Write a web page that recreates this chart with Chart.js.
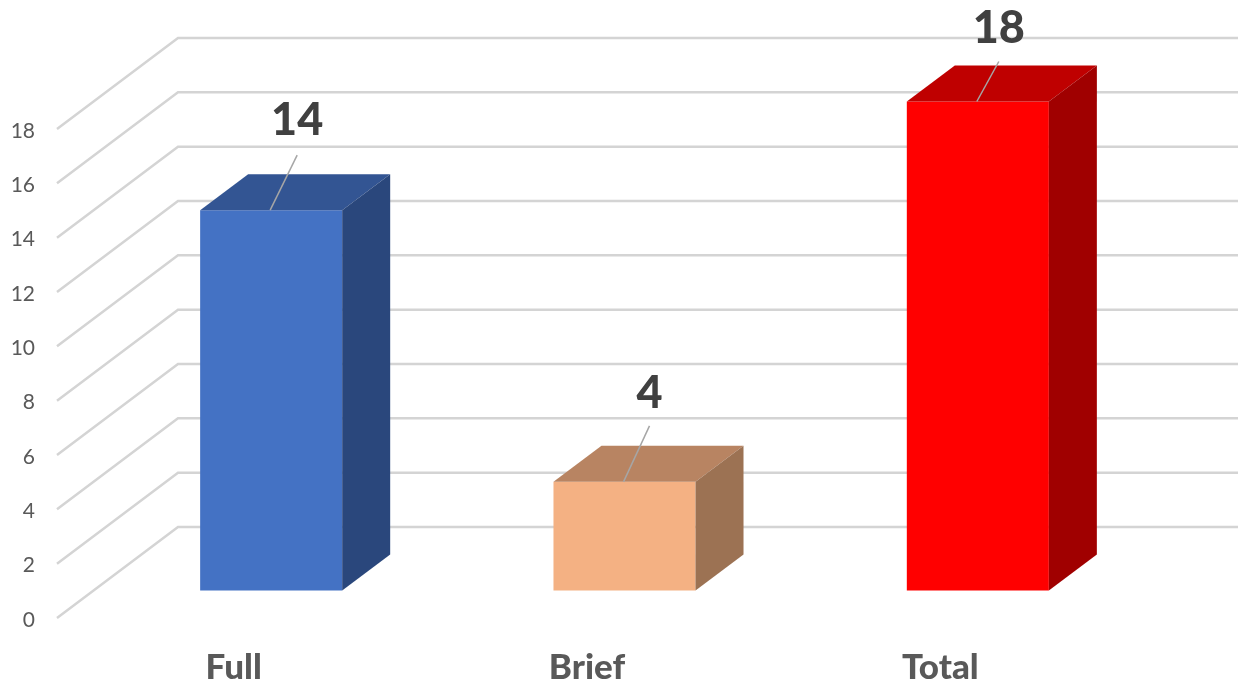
<!DOCTYPE html>
<html>
<head>
<meta charset="utf-8">
<style>
  body { margin: 0; background: #fff; }
</style>
<script src="https://cdn.jsdelivr.net/npm/chart.js@4"></script>
</head>
<body>
<canvas id="bar-chart" width="1243" height="686"></canvas>
<script>
var categories = ["Full", "Brief", "Total"];
var counts = [14, 4, 18];
var yTicks = [0, 2, 4, 6, 8, 10, 12, 14, 16, 18];

var frontColors = ["#4472C4", "#F4B183", "#FF0000"];
var topColors = ["#335593", "#B88462", "#BF0000"];
var sideColors = ["#2A477C", "#9C7253", "#A00000"];

// the fake 3d: wall depth, bar depth and how far the bars sit in from the front
var wallDx = 121, wallDy = -91;
var barDx = 48, barDy = -36;
var shiftX = 37.5, shiftY = -29.5;
// tick labels sit a bit below their lines in the original
var wallNudge = -2;
// leader line and label placement, relative to the top centre of each bar
var leaders = [[27, -55], [26, -56], [22, -40]];
var labelY = [120, 393, 28];

function poly(ctx, pts, color) {
  ctx.fillStyle = color;
  ctx.beginPath();
  ctx.moveTo(pts[0][0], pts[0][1]);
  for (var i = 1; i < pts.length; i++) {
    ctx.lineTo(pts[i][0], pts[i][1]);
  }
  ctx.closePath();
  ctx.fill();
}

var fake3d = {
  id: "fake3d",
  beforeDatasetsDraw: function (chart) {
    var ctx = chart.ctx;
    var area = chart.chartArea;
    var y = chart.scales.y;

    ctx.save();
    ctx.strokeStyle = "#d4d4d4";
    ctx.lineWidth = 2.5;
    yTicks.forEach(function (t) {
      var py = y.getPixelForValue(t) + wallNudge;
      ctx.beginPath();
      ctx.moveTo(area.left, py);
      ctx.lineTo(area.left + wallDx, py + wallDy);
      ctx.lineTo(area.right + wallDx, py + wallDy);
      ctx.stroke();
    });
    ctx.restore();

    // real bars get drawn shifted into the middle of the floor
    ctx.save();
    ctx.translate(shiftX, shiftY);
  },
  afterDatasetsDraw: function (chart) {
    var ctx = chart.ctx;
    var bars = chart.getDatasetMeta(0).data;

    bars.forEach(function (bar, i) {
      var left = bar.x - bar.width / 2;
      var right = bar.x + bar.width / 2;
      poly(ctx, [[left, bar.y], [left + barDx, bar.y + barDy], [right + barDx, bar.y + barDy], [right, bar.y]], topColors[i]);
      poly(ctx, [[right, bar.y], [right + barDx, bar.y + barDy], [right + barDx, bar.base + barDy], [right, bar.base]], sideColors[i]);
    });
    ctx.restore();

    bars.forEach(function (bar, i) {
      var x = bar.x + shiftX;
      var top = bar.y + shiftY;
      ctx.strokeStyle = "#a6a6a6";
      ctx.lineWidth = 1.5;
      ctx.beginPath();
      ctx.moveTo(x - 1, top);
      ctx.lineTo(x - 1 + leaders[i][0], top + leaders[i][1]);
      ctx.stroke();

      ctx.fillStyle = "#404040";
      ctx.font = "900 45px Lato";
      ctx.textAlign = "center";
      ctx.textBaseline = "middle";
      ctx.fillText(String(counts[i]), x - 1 + leaders[i][0], labelY[i]);
    });
  }
};

new Chart(document.getElementById("bar-chart"), {
  type: "bar",
  data: {
    labels: categories,
    datasets: [
      {
        label: "Count",
        data: counts,
        backgroundColor: frontColors,
        borderWidth: 0,
        barPercentage: 0.402,
        categoryPercentage: 1,
        clip: false
      }
    ]
  },
  options: {
    responsive: false,
    animation: false,
    layout: {
      padding: { left: 0, right: 126, top: 131, bottom: 0 }
    },
    plugins: {
      legend: { display: false },
      tooltip: { enabled: false }
    },
    scales: {
      x: {
        grid: { display: false },
        border: { display: false },
        afterFit: function (axis) { axis.height = 66; },
        ticks: {
          padding: 19,
          color: "#595959",
          font: { family: "Lato", size: 35, weight: "900" }
        }
      },
      y: {
        min: 0,
        max: 18,
        grid: { display: false },
        border: { display: false },
        afterFit: function (axis) { axis.width = 57; },
        afterBuildTicks: function (axis) {
          axis.ticks = yTicks.map(function (t) { return { value: t }; });
        },
        ticks: {
          padding: 14,
          color: "#595959",
          font: { family: "Lato", size: 21 }
        }
      }
    }
  },
  plugins: [fake3d]
});
</script>
</body>
</html>
